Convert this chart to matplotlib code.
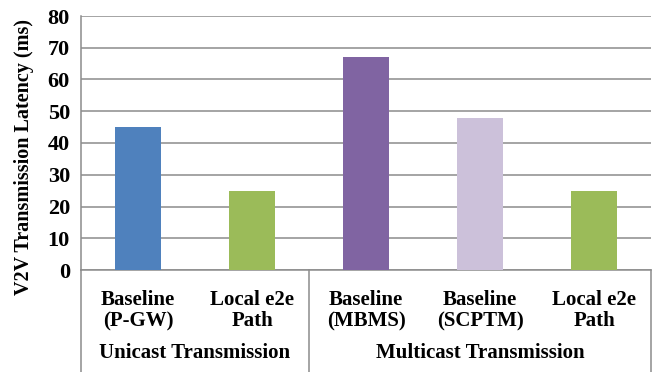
import matplotlib
matplotlib.use("Agg")
import matplotlib.pyplot as plt
import matplotlib.transforms as mtransforms

# latency per scheme (ms)
categories = ["Baseline\n(P-GW)", "Local e2e\nPath", "Baseline\n(MBMS)",
              "Baseline\n(SCPTM)", "Local e2e\nPath"]
latency = [45, 25, 67, 48, 25]
bar_colors = ["#4F81BD", "#9BBB59", "#8064A2", "#CCC1DA", "#9BBB59"]
groups = ["Unicast Transmission", "Multicast Transmission"]
group_spans = [(0, 1), (2, 4)]
yticks = [0, 10, 20, 30, 40, 50, 60, 70, 80]

plt.rcParams["font.family"] = ["Liberation Serif", "DejaVu Serif"]
plt.rcParams["font.weight"] = "bold"

fig = plt.figure(figsize=(6.62, 3.72), dpi=100)
ax = fig.add_axes([81 / 662, 102 / 372, 570 / 662, 254 / 372])

x = list(range(len(latency)))
ax.bar(x, latency, width=0.41, color=bar_colors, zorder=3)

ax.set_xlim(-0.5, len(latency) - 0.5)
ax.set_ylim(0, 80)
ax.set_yticks(yticks)
ax.set_yticklabels([str(t) for t in yticks], fontsize=16, fontweight="bold")
ax.yaxis.grid(True, color="#8C8C8C", linewidth=1.1, zorder=0)
ax.set_axisbelow(True)
ax.tick_params(axis="y", length=0, pad=8)
ax.tick_params(axis="x", length=0, labelbottom=False)

for side in ["top", "right"]:
    ax.spines[side].set_visible(False)
ax.spines["left"].set_color("#8C8C8C")
ax.spines["bottom"].set_color("#8C8C8C")
ax.spines["left"].set_linewidth(1.1)
ax.spines["bottom"].set_linewidth(1.1)

ax.set_ylabel("V2V Transmission Latency (ms)", fontsize=14.5, fontweight="bold")
ax.yaxis.set_label_coords(-0.082, 0.445)

# category and group labels under the axis
trans = mtransforms.blended_transform_factory(ax.transData, ax.transAxes)
for xi, lab in zip(x, categories):
    ax.text(xi, -0.16, lab, transform=trans, ha="center", va="center",
            fontsize=15, fontweight="bold", linespacing=1.05)
for (a, b), g in zip(group_spans, groups):
    ax.text((a + b) / 2, -0.325, g, transform=trans, ha="center", va="center",
            fontsize=15, fontweight="bold")

# divider lines of the category table
bottom = -0.41
for xv in [-0.5, 1.5, 4.5]:
    ax.plot([xv, xv], [0, bottom], transform=trans, color="#8C8C8C",
            linewidth=1.1, clip_on=False)

fig.savefig("out.png", dpi=100)
